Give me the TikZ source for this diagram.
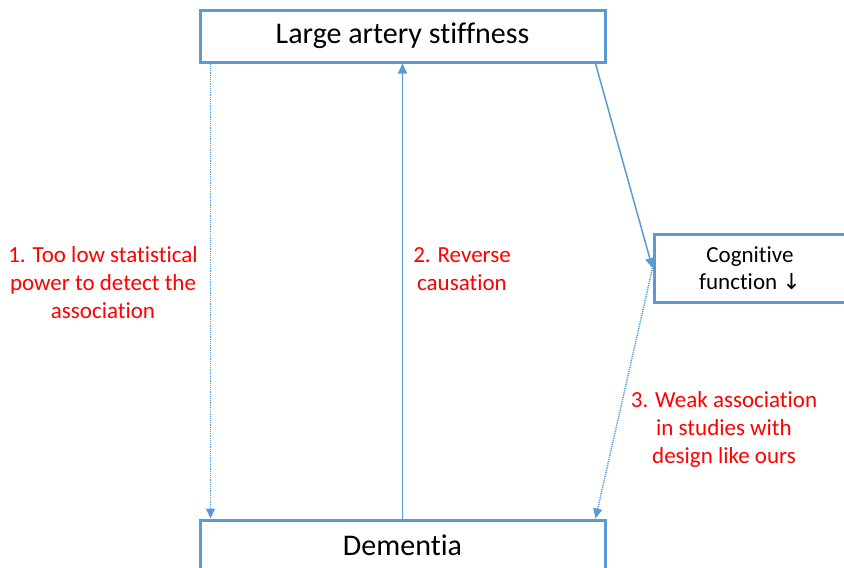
\documentclass[tikz,border=0pt]{standalone}
\usepackage{fontspec}
\setmainfont{Carlito}[Ligatures={NoCommon}]
\newfontfamily\dv{DejaVu Sans}
\usetikzlibrary{arrows.meta,calc}
\definecolor{boxblue}{RGB}{91,155,213}
\definecolor{lblred}{RGB}{255,0,0}
\tikzset{
  box/.style={draw=boxblue, line width=3pt, fill=white, inner sep=0pt, align=center, text=black},
  conn/.style={draw=boxblue, line width=1.5pt, -{Triangle[length=10pt,width=9pt]}},
  dconn/.style={conn, dash pattern=on 1.2pt off 1pt},
  lbl/.style={text=lblred, font=\fontsize{23}{28}\selectfont, align=center, inner sep=0pt}
}
\begin{document}
\begin{tikzpicture}[x=1pt,y=-1pt]
\useasboundingbox (0,0) rectangle (844,568);
\clip (0,0) rectangle (844,568);
\node[box, minimum width=405pt, minimum height=52pt, font=\fontsize{30}{34}\selectfont] (top) at (402.5,36) {Large artery stiffness};
\node[box, minimum width=405pt, minimum height=50pt, font=\fontsize{30}{34}\selectfont] (dem) at (402.5,545) {Dementia};
\node[box, minimum width=192pt, minimum height=68pt, font=\fontsize{23}{27}\selectfont] (cog) at (750,268) {Cognitive\\function {\dv\fontsize{22}{27}\selectfont ↓}};
\coordinate (t1) at ($(top.south west)+(12,0)$);
\coordinate (d1) at ($(dem.north west)+(12,0)$);
\coordinate (t2) at ($(top.south east)+(-11,0)$);
\coordinate (d2) at ($(dem.north east)+(-11,0)$);
\draw[dconn] (t1) -- (d1);
\draw[conn] (dem.north) -- (top.south);
\draw[conn] (t2) -- (cog.west);
\draw[dconn] (cog.west) -- (d2);
\node[lbl] (l1) at (103,283) {1. Too low statistical\\power to detect the\\association};
\node[lbl] (l2) at (462,269) {2. Reverse\\causation};
\node[lbl] (l3) at (724,429) {3. Weak association\\in studies with\\design like ours};
\end{tikzpicture}
\end{document}
